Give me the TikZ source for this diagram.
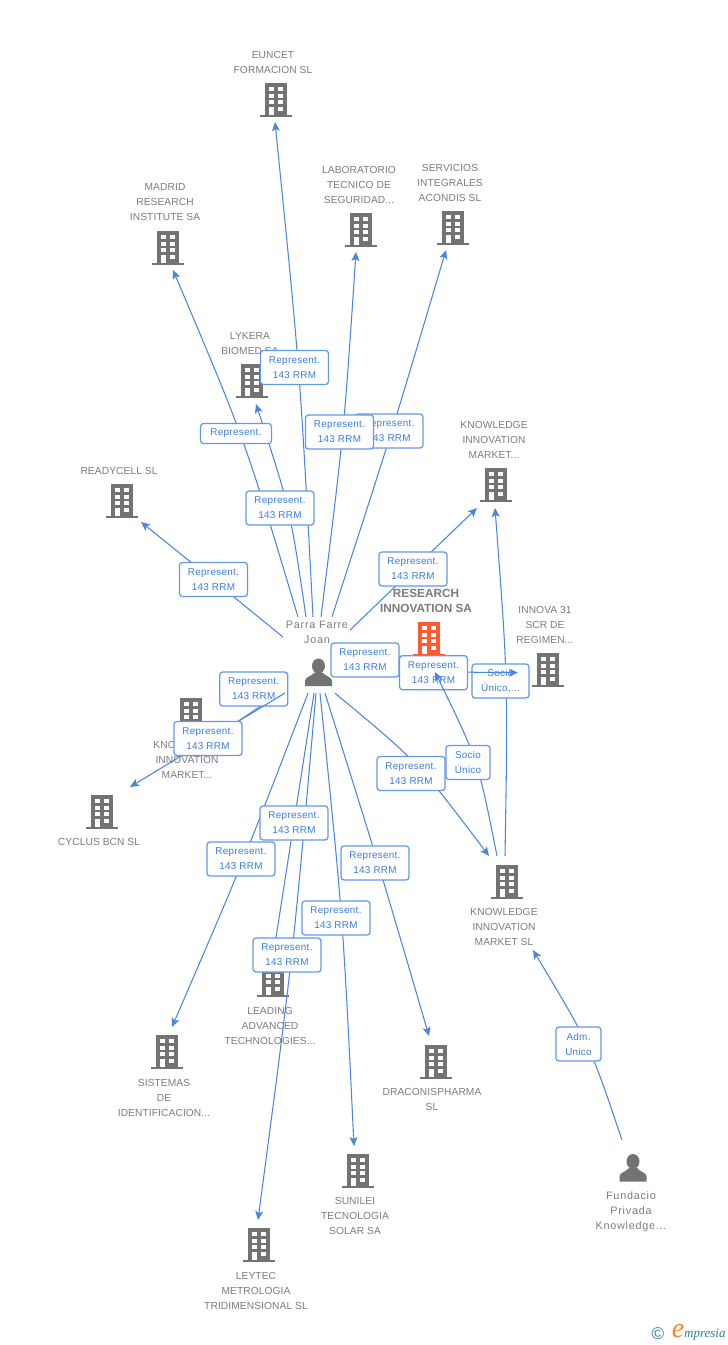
\documentclass[tikz,border=0pt]{standalone}
\usepackage{fontspec}
\setmainfont{Liberation Sans}
\newfontfamily\namef[LetterSpace=1]{Liberation Sans}
\newfontfamily\perf[LetterSpace=7]{Liberation Sans}
\newfontfamily\tagf[LetterSpace=3]{Liberation Sans}
\newfontfamily\logof{Liberation Serif}
\usetikzlibrary{arrows.meta}
\definecolor{icongray}{HTML}{737373}
\definecolor{textgray}{HTML}{7C7C7C}
\definecolor{linkblue}{HTML}{4A86E0}
\definecolor{tagblue}{HTML}{3B7DE0}
\definecolor{hotred}{HTML}{FF5A30}
\definecolor{logoteal}{HTML}{2F7F96}
\definecolor{logoorange}{HTML}{F08A1D}
\tikzset{
  pics/bldg/.style={code={
    \fill[#1] (-11,-17) rectangle (11,15);
    \fill[#1] (-16,15) rectangle (16,17);
    \foreach \yy in {-12.7,-6.5,0}{
      \fill[white] (-7,\yy) rectangle (-2.5,\yy+4);
      \fill[white] (2.4,\yy) rectangle (7,\yy+4);
    }
    \fill[white] (-7,6.7) rectangle (-2.5,14.5);
    \fill[white] (2.4,6.7) rectangle (7,11);
  }},
  pics/human/.style={code={
    \fill[icongray] (0,-6.5) ellipse (6.5 and 7.5);
    \fill[icongray] (-13.5,13.5) -- (-13.5,8) .. controls (-13,4) and (-6,3.5) .. (-4,0) -- (4,0) .. controls (6,3.5) and (13,4) .. (13.5,8) -- (13.5,13.5) -- cycle;
  }},
  holder/.style={inner sep=0pt,minimum width=46pt,minimum height=46pt},
  nametext/.style={font=\namef\fontsize{10.2}{15}\selectfont,text=textgray,align=center,inner sep=0pt},
  pername/.style={font=\perf\fontsize{10.8}{15}\selectfont,text=textgray,align=center,inner sep=0pt},
  hotname/.style={font=\bfseries\fontsize{11.8}{15}\selectfont,text=textgray,align=center,inner sep=0pt},
  linkarrow/.style={draw=linkblue,line width=1.05pt,-{Stealth[length=9pt,width=8pt,inset=2pt]}},
  plainlink/.style={draw=linkblue,line width=1.05pt},
  tagbox/.style={draw=linkblue!85,fill=white,line width=1.25pt,rounded corners=3pt,inner sep=0pt,
    minimum width=68pt,minimum height=34pt,align=center,text=tagblue,font=\tagf\fontsize{9.9}{15}\selectfont},
}
\begin{document}
\begin{tikzpicture}[x=1pt,y=-1pt]
\useasboundingbox (0,0) rectangle (728,1345);
\fill[white] (0,0) rectangle (728,1345);
% holders
\node[holder] (eun) at (276,100) {};
\node[holder] (mad) at (168,248) {};
\node[holder] (lab) at (361,230) {};
\node[holder] (ser) at (453,228) {};
\node[holder] (lyk) at (252,381) {};
\node[holder] (rdy) at (122,501) {};
\node[holder] (kmt) at (496,485) {};
\node[holder] (res) at (429,639) {};
\node[holder] (inn) at (548,670) {};
\node[holder] (kml) at (191,715) {};
\node[holder] (cyc) at (102,812) {};
\node[holder] (kms) at (507,882) {};
\node[holder] (sis) at (167,1052) {};
\node[holder] (lea) at (273,980) {};
\node[holder] (dra) at (436,1062) {};
\node[holder] (sun) at (358,1171) {};
\node[holder] (ley) at (259,1245) {};
\node[inner sep=0pt,minimum width=66pt,minimum height=76pt] (P) at (318,655) {};
\node[inner sep=0pt,minimum width=30pt,minimum height=56pt] (F) at (633,1168) {};
% icons
\foreach \n in {eun,mad,lab,ser,lyk,rdy,kmt,inn,kml,cyc,kms,sis,lea,dra,sun,ley}{\pic at (\n) {bldg=icongray};}
\pic at (res) {bldg=hotred};
\pic at (318.5,672.5) {human};
\pic at (F) {human};
% names
\node[nametext] (neun) at (273,62) {EUNCET\\FORMACION SL};
\node[nametext] (nmad) at (165,202.5) {MADRID\\RESEARCH\\INSTITUTE SA};
\node[nametext] (nlab) at (359,184.5) {LABORATORIO\\TECNICO DE\\SEGURIDAD...};
\node[nametext] (nser) at (450,182.5) {SERVICIOS\\INTEGRALES\\ACONDIS SL};
\node[nametext] (nlyk) at (250,344) {LYKERA\\BIOMED SA};
\node[nametext] (nrdy) at (119,470.5) {READYCELL SL};
\node[nametext] (nkmt) at (494,439.5) {KNOWLEDGE\\INNOVATION\\MARKET...};
\node[hotname] (nres) at (426,601) {RESEARCH\\INNOVATION SA};
\node[nametext] (ninn) at (545,624.5) {INNOVA 31\\SCR DE\\REGIMEN...};
\node[pername] (nP) at (317,632.5) {Parra Farre\\Joan};
\node[nametext] (nkml) at (187,759.5) {KNOWLEDGE\\INNOVATION\\MARKET...};
\node[nametext] (ncyc) at (99,841.5) {CYCLUS BCN SL};
\node[nametext] (nkms) at (504,926.5) {KNOWLEDGE\\INNOVATION\\MARKET SL};
\node[nametext] (nsis) at (164,1097.5) {SISTEMAS\\DE\\IDENTIFICACION...};
\node[nametext] (nlea) at (270,1025.5) {LEADING\\ADVANCED\\TECHNOLOGIES...};
\node[nametext] (ndra) at (432,1099) {DRACONISPHARMA\\SL};
\node[nametext] (nsun) at (355,1215.5) {SUNILEI\\TECNOLOGIA\\SOLAR SA};
\node[nametext] (nley) at (256,1290.5) {LEYTEC\\METROLOGIA\\TRIDIMENSIONAL SL};
\node[pername] (nF) at (631,1211.5) {Fundacio\\Privada\\Knowledge...};
% connectors under every tag
\draw[linkarrow] ([xshift=-5pt]P.north) .. controls (300,370) .. ([shift={(-1pt,-22pt)}]eun.center);
\draw[linkarrow] ([xshift=-20pt]P.north) .. controls (245,440) .. ([shift={(5pt,-22pt)}]mad.center);
\draw[linkarrow] ([xshift=-12pt]P.north) .. controls (290,508) .. ([shift={(4pt,-23pt)}]lyk.center);
\draw[linkarrow] ([xshift=3pt]P.north) .. controls (344,432) .. ([shift={(-5pt,-22pt)}]lab.center);
\draw[linkarrow] ([xshift=14pt]P.north) .. controls (392,432) .. ([shift={(-7pt,-22pt)}]ser.center);
\draw[linkarrow] ([shift={(32pt,25pt)}]P.center) -- ([shift={(-19pt,-23pt)}]kmt.center);
\draw[linkarrow] ([shift={(-35pt,18pt)}]P.center) .. controls (213,580) .. ([shift={(19pt,-21pt)}]rdy.center);
\draw[plainlink] (P.east) -- ([shift={(-34pt,-12pt)}]res.center);
\draw[plainlink] ([yshift=-35pt]P.west) -- ([shift={(34pt,-15pt)}]kml.center);
\draw[linkarrow] ([xshift=-10pt]P.south) .. controls (244,860) .. ([shift={(5pt,25pt)}]sis.center);
\draw[linkarrow] ([xshift=-4pt]P.south) -- ([shift={(0pt,23pt)}]lea.center);
\draw[linkarrow] ([xshift=-2pt]P.south) .. controls (293,956) .. ([shift={(-1pt,25pt)}]ley.center);
\draw[linkarrow] ([xshift=2pt]P.south) .. controls (343,918) .. ([shift={(-4pt,25pt)}]sun.center);
\draw[linkarrow] ([xshift=7pt]P.south) .. controls (378,862) .. ([shift={(-7pt,26pt)}]dra.center);
\draw[linkarrow] ([xshift=17pt]P.south) .. controls (418,762) .. ([shift={(-18pt,26pt)}]kms.center);
\draw[linkarrow] ([xshift=-2pt,yshift=26pt]kms.center) .. controls (508,680) .. ([shift={(-1pt,-23pt)}]kmt.center);
\draw[linkarrow] ([shift={(-11pt,28pt)}]F.center) .. controls (590,1045) .. ([shift={(26pt,-68pt)}]kms.center);
% tags
\node[tagbox] (t1) at (294.5,367.5) {Represent.\\143 RRM};
\node[tagbox,minimum width=71pt,minimum height=20pt] (t2) at (236,433.5) {Represent.};
\node[tagbox] (t3) at (389,431) {Represent.\\143 RRM};
\node[tagbox] (t4) at (339.5,432) {Represent.\\143 RRM};
\node[tagbox] (t5) at (280,508) {Represent.\\143 RRM};
\node[tagbox] (t6) at (213.5,579.5) {Represent.\\143 RRM};
\node[tagbox] (t7) at (413,569) {Represent.\\143 RRM};
\node[tagbox,minimum width=57pt] (t9) at (500.5,681) {Socio\\Único,...};
\node[tagbox] (t10) at (253.7,689) {Represent.\\143 RRM};
\draw[linkarrow] ([shift={(-33pt,-38pt)}]P.center) -- ([shift={(28pt,25pt)}]cyc.center);
\node[tagbox] (t11) at (208,738.5) {Represent.\\143 RRM};
\node[tagbox] (t12) at (294,823) {Represent.\\143 RRM};
\node[tagbox] (t13) at (241,859) {Represent.\\143 RRM};
\node[tagbox] (t14) at (375,863) {Represent.\\143 RRM};
\node[tagbox] (t15) at (336,918) {Represent.\\143 RRM};
\node[tagbox] (t16) at (287,955) {Represent.\\143 RRM};
\node[tagbox] (t17) at (411,773.5) {Represent.\\143 RRM};
\node[tagbox,minimum width=45pt] (t18) at (578.5,1044) {Adm.\\Unico};
\draw[linkarrow] (P.east) .. controls (433,672) .. ([shift={(-30pt,-2.7pt)}]inn.center);
\node[tagbox] (t8) at (365,660) {Represent.\\143 RRM};
\node[tagbox] (t19) at (433.5,672.7) {Represent.\\143 RRM};
\draw[linkarrow] ([shift={(-10pt,26pt)}]kms.center) .. controls (478,760) .. ([shift={(6pt,-33pt)}]res.center);
\node[tagbox,minimum width=44pt] (t20) at (468,762.5) {Socio\\Único};
% logo
\node[inner sep=0pt,text=logoteal,font=\fontsize{17}{17}\selectfont] (lc) at (658,1334) {©};
\node[inner sep=0pt,text=logoorange,font=\logof\itshape\fontsize{28}{28}\selectfont] (le) at (678,1331) {e};
\node[inner sep=0pt,anchor=west,text=logoteal,font=\logof\itshape\fontsize{13}{13}\selectfont] (lm) at (684,1335) {mpresia};
\end{tikzpicture}
\end{document}
